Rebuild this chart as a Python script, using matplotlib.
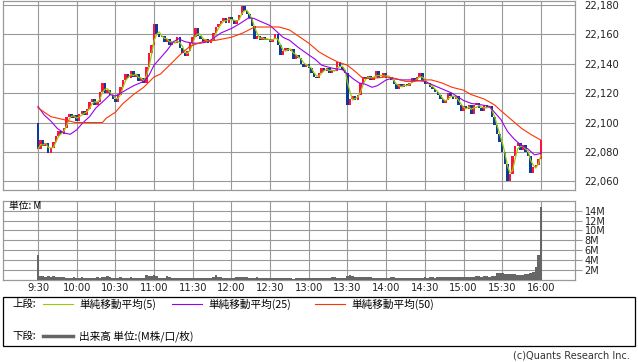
import numpy as np
import pandas as pd
import matplotlib
matplotlib.use("Agg")
import matplotlib.pyplot as plt
from matplotlib.lines import Line2D
from matplotlib.patches import Rectangle

# 2-minute bars, x = minutes after 9:30
first_open = 22100
closes = [
    22082, 22088, 22084, 22086, 22079, 22083, 22087, 22091, 22094, 22092,
    22096, 22104, 22106, 22103, 22105, 22101, 22106, 22108, 22105, 22109,
    22114, 22116, 22112, 22114, 22121, 22127, 22120, 22122, 22119, 22116,
    22114, 22119, 22124, 22129, 22133, 22130, 22135, 22131, 22133, 22128,
    22130, 22127, 22138, 22147, 22153, 22167, 22160, 22158, 22159, 22155,
    22157, 22153, 22155, 22154, 22158, 22151, 22147, 22145, 22149, 22154,
    22158, 22164, 22159, 22157, 22155, 22157, 22154, 22156, 22161, 22165,
    22167, 22169, 22171, 22168, 22172, 22170, 22167, 22170, 22173, 22179,
    22176, 22174, 22171, 22166, 22157, 22159, 22156, 22158, 22156, 22157,
    22155, 22157, 22160, 22153, 22146, 22149, 22151, 22149, 22150, 22143,
    22146, 22144, 22140, 22138, 22140, 22137, 22134, 22131, 22130, 22134,
    22137, 22135, 22137, 22134, 22136, 22135, 22141, 22138, 22136, 22134,
    22112, 22116, 22118, 22115, 22119, 22127, 22131, 22130, 22132, 22129,
    22131, 22135, 22130, 22131, 22134, 22130, 22131, 22129, 22126, 22123,
    22126, 22124, 22126, 22125, 22127, 22130, 22128, 22131, 22134, 22128,
    22126, 22127, 22124, 22123, 22121, 22119, 22116, 22113, 22115, 22120,
    22118, 22116, 22118, 22112, 22108, 22111, 22109, 22112, 22106, 22112,
    22113, 22110, 22108, 22112, 22110, 22111, 22104, 22098, 22092, 22087,
    22080, 22072, 22060, 22065, 22077, 22084, 22086, 22081, 22085, 22080,
    22077, 22066, 22070, 22071, 22075, 22088,
]

# volume in millions, same 2-minute bars
volumes = [
    5.0, 0.8, 0.8, 0.7, 0.8, 0.7, 0.8, 0.7, 0.65, 0.6,
    0.6, 0.5, 0.5, 0.5, 0.55, 0.5, 0.5, 0.55, 0.5, 0.5,
    0.45, 0.5, 0.5, 0.55, 0.5, 0.6, 0.7, 0.9, 0.6, 0.5,
    0.5, 0.5, 0.55, 0.5, 0.5, 0.5, 0.55, 0.5, 0.5, 0.5,
    0.5, 0.5, 1.0, 0.8, 0.8, 1.1, 0.8, 0.5, 0.5, 0.5,
    0.8, 0.7, 0.4, 0.35, 0.35, 0.35, 0.35, 0.35, 0.35, 0.4,
    0.5, 0.5, 0.45, 0.5, 0.4, 0.5, 0.45, 0.5, 0.6, 0.95,
    0.6, 0.6, 0.5, 0.5, 0.5, 0.5, 0.4, 0.55, 0.55, 0.55,
    0.55, 0.55, 0.5, 0.5, 0.5, 0.55, 0.5, 0.45, 0.45, 0.4,
    0.4, 0.4, 0.35, 0.4, 0.4, 0.35, 0.4, 0.35, 0.4, 0.3,
    0.4, 0.45, 0.5, 0.45, 0.5, 0.35, 0.35, 0.35, 0.35, 0.4,
    0.4, 0.35, 0.35, 0.35, 0.6, 0.6, 0.4, 0.4, 0.4, 0.45,
    0.9, 1.0, 0.9, 0.7, 0.6, 0.6, 0.6, 0.7, 0.6, 0.6,
    0.4, 0.4, 0.35, 0.4, 0.4, 0.4, 0.35, 0.6, 0.6, 0.5,
    0.45, 0.5, 0.5, 0.45, 0.5, 0.5, 0.5, 0.45, 0.5, 0.5,
    0.55, 0.5, 0.55, 0.55, 0.5, 0.55, 0.6, 0.55, 0.55, 0.55,
    0.55, 0.6, 0.6, 0.6, 0.65, 0.6, 0.6, 0.65, 0.6, 0.6,
    0.75, 0.75, 0.7, 0.8, 0.75, 0.7, 0.75, 0.8, 1.35, 1.4,
    1.35, 1.3, 1.2, 1.25, 1.2, 1.15, 1.0, 1.0, 1.1, 1.3,
    1.3, 1.35, 1.6, 2.7, 5.0, 14.8,
]

# moving averages (minutes after 9:30, price)
ma25_t = [0, 5, 10, 15, 20, 25, 30, 35, 40, 45, 50, 56, 60, 68, 74, 82, 86, 90,
          97, 100, 105, 109, 114, 120, 126, 132, 137, 142, 150, 156, 163, 167,
          172, 180, 185, 190, 195, 202, 210, 215, 220, 228, 236, 240, 244, 249,
          254, 259, 263, 270, 274, 282, 290, 300, 305, 313, 321, 330, 336, 344,
          350, 354, 359, 364, 369, 374, 380, 385, 390]
ma25_v = [22111, 22105, 22101, 22096, 22093, 22092, 22095, 22100, 22104, 22110,
          22114, 22119, 22118, 22122, 22125, 22128, 22132, 22139, 22146, 22149,
          22155, 22157, 22155, 22154, 22154, 22155, 22158, 22161, 22164, 22167,
          22171, 22171, 22169, 22166, 22162, 22158, 22156, 22151, 22146, 22143,
          22139, 22137, 22136, 22133, 22130, 22127, 22126, 22124, 22125, 22129,
          22130, 22129, 22129, 22128, 22126, 22123, 22120, 22115, 22113, 22112,
          22111, 22107, 22102, 22094, 22089, 22085, 22082, 22078, 22079]
ma50_t = [0, 10, 20, 29, 50, 53, 60, 66, 74, 82, 90, 95, 102, 110, 118, 128, 138,
          150, 159, 168, 187, 195, 200, 210, 218, 226, 233, 240, 247, 252, 259,
          270, 277, 285, 292, 300, 305, 313, 321, 330, 336, 346, 354, 359, 367,
          375, 382, 390]
ma50_v = [22110, 22104, 22102, 22100, 22100, 22103, 22107, 22113, 22119, 22124,
          22131, 22133, 22139, 22146, 22152, 22155, 22156, 22158, 22161, 22165,
          22165, 22163, 22160, 22154, 22148, 22144, 22141, 22139, 22134, 22130,
          22130, 22131, 22130, 22128, 22128, 22129, 22129, 22127, 22124, 22122,
          22119, 22116, 22112, 22108, 22102, 22096, 22092, 22088]

time_labels = ['9:30', '10:00', '10:30', '11:00', '11:30', '12:00', '12:30',
               '13:00', '13:30', '14:00', '14:30', '15:00', '15:30', '16:00']
price_ticks = [22060, 22080, 22100, 22120, 22140, 22160, 22180]
vol_ticks = [2, 4, 6, 8, 10, 12, 14]

UP = '#ff1040'
DOWN = '#0a3a9a'
GRID = '#999999'
CJK = ['Noto Sans CJK JP', 'DejaVu Sans']

W, H = 638, 362
fig = plt.figure(figsize=(W / 100, H / 100), dpi=100)


def box(l, t, r, b):
    return [l / W, 1 - b / H, (r - l) / W, (b - t) / H]


ax = fig.add_axes(box(3, 0.7, 575, 190.3))
axv = fig.add_axes(box(3, 200.7, 575, 280), sharex=ax)

t = np.arange(len(closes)) * 2
c = np.array(closes, dtype=float)
o = np.array([first_open] + closes[:-1], dtype=float)
body = c - o
body[body == 0] = 1.0
colors = np.where(c >= o, UP, DOWN)
ax.bar(t, body, bottom=o, width=1.9, color=colors, linewidth=0, zorder=3)

ma5 = pd.Series(closes, dtype=float).rolling(3, min_periods=1).mean()
ax.plot(t, ma5, color='#99cc00', lw=0.9, zorder=4)
ax.plot(ma25_t, ma25_v, color='#9900ee', lw=0.8, zorder=4)
ax.plot(ma50_t, ma50_v, color='#ff3300', lw=0.8, zorder=4)

ax.set_xlim(-27.1, 416.4)
ax.set_ylim(22053.9, 22182.9)
ax.set_xticks(np.arange(len(time_labels)) * 30)
ax.set_yticks(price_ticks)
ax.set_yticklabels([f'{v:,}' for v in price_ticks])
ax.yaxis.tick_right()
ax.tick_params(axis='y', length=0, pad=7, labelsize=7.2, labelcolor='#222222')
ax.tick_params(axis='x', length=0, labelbottom=False)
ax.grid(True, color=GRID, lw=0.8, zorder=0)

axv.bar(t, volumes, width=2.0, color='#666666', linewidth=0, zorder=3)
axv.set_ylim(0, 16)
axv.set_yticks(vol_ticks)
axv.set_yticklabels([f'{v}M' for v in vol_ticks])
axv.yaxis.tick_right()
axv.tick_params(axis='y', length=5, color=GRID, pad=2, labelsize=7,
                labelcolor='#222222')
axv.set_xticks(np.arange(len(time_labels)) * 30)
axv.set_xticklabels(time_labels)
axv.tick_params(axis='x', length=0, pad=2, labelsize=7.2, labelcolor='#222222')
axv.grid(True, color=GRID, lw=0.8, zorder=0)
axv.text(0.01, 0.93, '単位: M', transform=axv.transAxes, fontsize=7,
         family=CJK, va='center', ha='left', zorder=5)

for a in (ax, axv):
    for s in a.spines.values():
        s.set_color(GRID)
        s.set_linewidth(0.9)


def fx(px):
    return px / W


def fy(py):
    return 1 - py / H


fig.add_artist(Rectangle((fx(3), fy(346)), fx(632), 49 / H, fill=False,
                         ec='black', lw=0.9, transform=fig.transFigure))

fig.text(fx(12), fy(304), '上段:', fontsize=7.5, family=CJK, va='center')
legend_items = [
    (43, '#99cc00', '単純移動平均(5)'),
    (172, '#9900ee', '単純移動平均(25)'),
    (315, '#ff3300', '単純移動平均(50)'),
]
for x0, col, label in legend_items:
    fig.add_artist(Line2D([fx(x0), fx(x0 + 30)], [fy(304), fy(304)], color=col,
                          lw=0.8, transform=fig.transFigure))
    fig.text(fx(x0 + 36), fy(304), label, fontsize=7.7, family=CJK, va='center')

fig.text(fx(12), fy(336), '下段:', fontsize=7.5, family=CJK, va='center')
fig.add_artist(Line2D([fx(43), fx(73)], [fy(336), fy(336)], color='#666666',
                      lw=2.5, transform=fig.transFigure))
fig.text(fx(79), fy(336), '出来高 単位:(M株/口/枚)', fontsize=7.7, family=CJK,
         va='center')

fig.text(fx(630), fy(356), '(c)Quants Research Inc.', fontsize=7, ha='right',
         va='center', color='#333333')

fig.savefig('out.png', dpi=100)
